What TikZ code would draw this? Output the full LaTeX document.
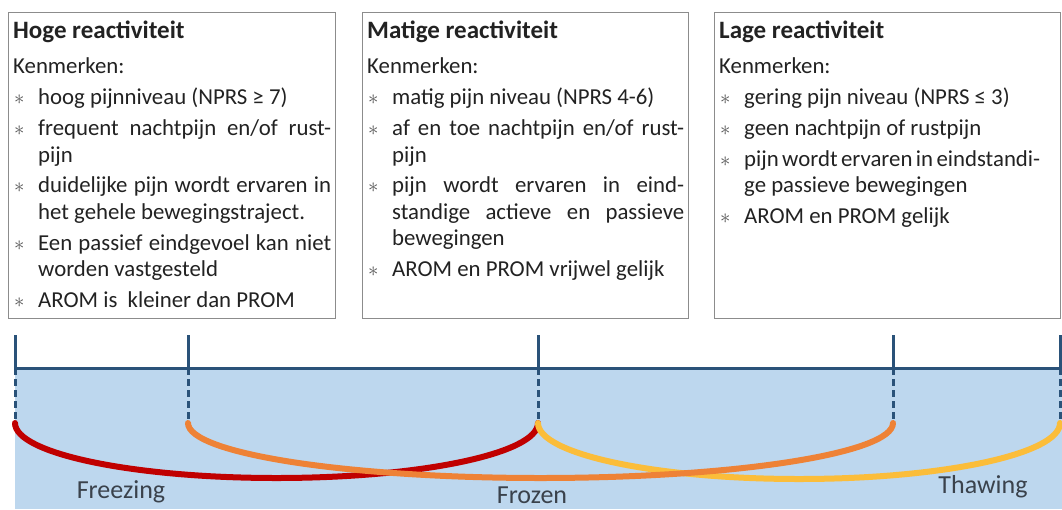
\documentclass[tikz,border=0pt]{standalone}
\usepackage{fontspec}
\setmainfont{Carlito}
\usetikzlibrary{calc}
\definecolor{boxgray}{HTML}{8C8C8C}
\definecolor{txtgray}{HTML}{222222}
\definecolor{bulgray}{HTML}{555555}
\definecolor{bgblue}{HTML}{BDD7EE}
\definecolor{lineblue}{HTML}{2A5279}
\definecolor{arcred}{HTML}{C00000}
\definecolor{arcorange}{HTML}{EE8236}
\definecolor{arcyellow}{HTML}{FBBD3A}
\definecolor{lblgray}{HTML}{3A424C}
\newcommand\bitem[1]{\par\vspace{4.4pt}\hangindent=25pt\hangafter=1\noindent\makebox[25pt][l]{\hspace{1pt}\textcolor{bulgray}{$\ast$}}#1\par}
\newcommand\boxtitle[1]{{\bfseries\fontsize{25}{26.5}\selectfont #1}\par\vspace{8.5pt}Kenmerken:\par}
\begin{document}
\begin{tikzpicture}[x=1pt,y=-1pt,
  panel/.style={draw=boxgray, line width=1.4pt, fill=white, minimum height=306pt, inner sep=0pt},
  paneltext/.style={anchor=north west, inner sep=0pt, text width=#1, align=justify, text=txtgray,
     font=\fontsize{22.8}{26.5}\selectfont},
  tickline/.style={draw=lineblue, line width=3pt},
  dashline/.style={draw=lineblue, line width=3pt, dash pattern=on 7pt off 4pt},
  phase/.style={line width=6pt, line cap=round},
  lbl/.style={text=lblgray, font=\fontsize{26}{30}\selectfont, inner sep=0pt}]
\useasboundingbox (0,0) rectangle (1062,509);
% panels
\node[panel, anchor=north west, minimum width=327pt] (b1) at (8,12) {};
\node[panel, anchor=north west, minimum width=326pt] (b2) at (362,12) {};
\node[panel, anchor=north west, minimum width=346pt] (b3) at (714,12) {};
\node[paneltext=318pt] (t1) at (13,21) {\boxtitle{Hoge reactiviteit}%
\bitem{hoog pijnniveau (NPRS ≥ 7)}%
\bitem{frequent nachtpijn en/of rust-\linebreak pijn}%
\bitem{duidelijke pijn wordt ervaren in\linebreak het gehele bewegingstraject.}%
\bitem{Een passief eindgevoel kan niet\linebreak worden vastgesteld}%
\bitem{AROM is\ \ kleiner dan PROM}};
\node[paneltext=317pt] (t2) at (367,21) {\boxtitle{Matige reactiviteit}%
\bitem{matig pijn niveau (NPRS 4-6)}%
\bitem{af en toe nachtpijn en/of rust-\linebreak pijn}%
\bitem{pijn wordt ervaren in eind-\linebreak standige actieve en passieve\linebreak bewegingen}%
\bitem{AROM en PROM vrijwel gelijk}};
\node[paneltext=321pt] (t3) at (719,21) {\boxtitle{Lage reactiviteit}%
\bitem{gering pijn niveau (NPRS ≤ 3)}%
\bitem{geen nachtpijn of rustpijn}%
\bitem{pijn wordt ervaren in eindstandi-\linebreak ge passieve bewegingen}%
\bitem{AROM en PROM gelijk}};
% timeline background
\fill[bgblue] (15,368) rectangle (1062,509);
\foreach \i/\x in {1/15,2/188,3/538,4/893,5/1060}{
  \coordinate (u\i) at (\x,335);
  \coordinate (m\i) at (\x,368);
  \coordinate (d\i) at (\x,423);
}
\draw[tickline] (m1) -- (1062,368);
\foreach \i in {1,...,5}{
  \draw[tickline] (u\i) -- (m\i);
  \draw[dashline] (m\i) -- (d\i);
}
% phase arcs
\draw[phase, arcred] (d1) arc[start angle=180, end angle=0, x radius=261.5, y radius=55];
\draw[phase, arcyellow] (d3) arc[start angle=180, end angle=0, x radius=261, y radius=56];
\draw[phase, arcorange] (d2) arc[start angle=180, end angle=0, x radius=352.5, y radius=55];
% labels
\node[lbl] (freezing) at (121,492) {Freezing};
\node[lbl] (frozen) at (532,495) {Frozen};
\node[lbl] (thawing) at (983,487) {Thawing};
\end{tikzpicture}
\end{document}
